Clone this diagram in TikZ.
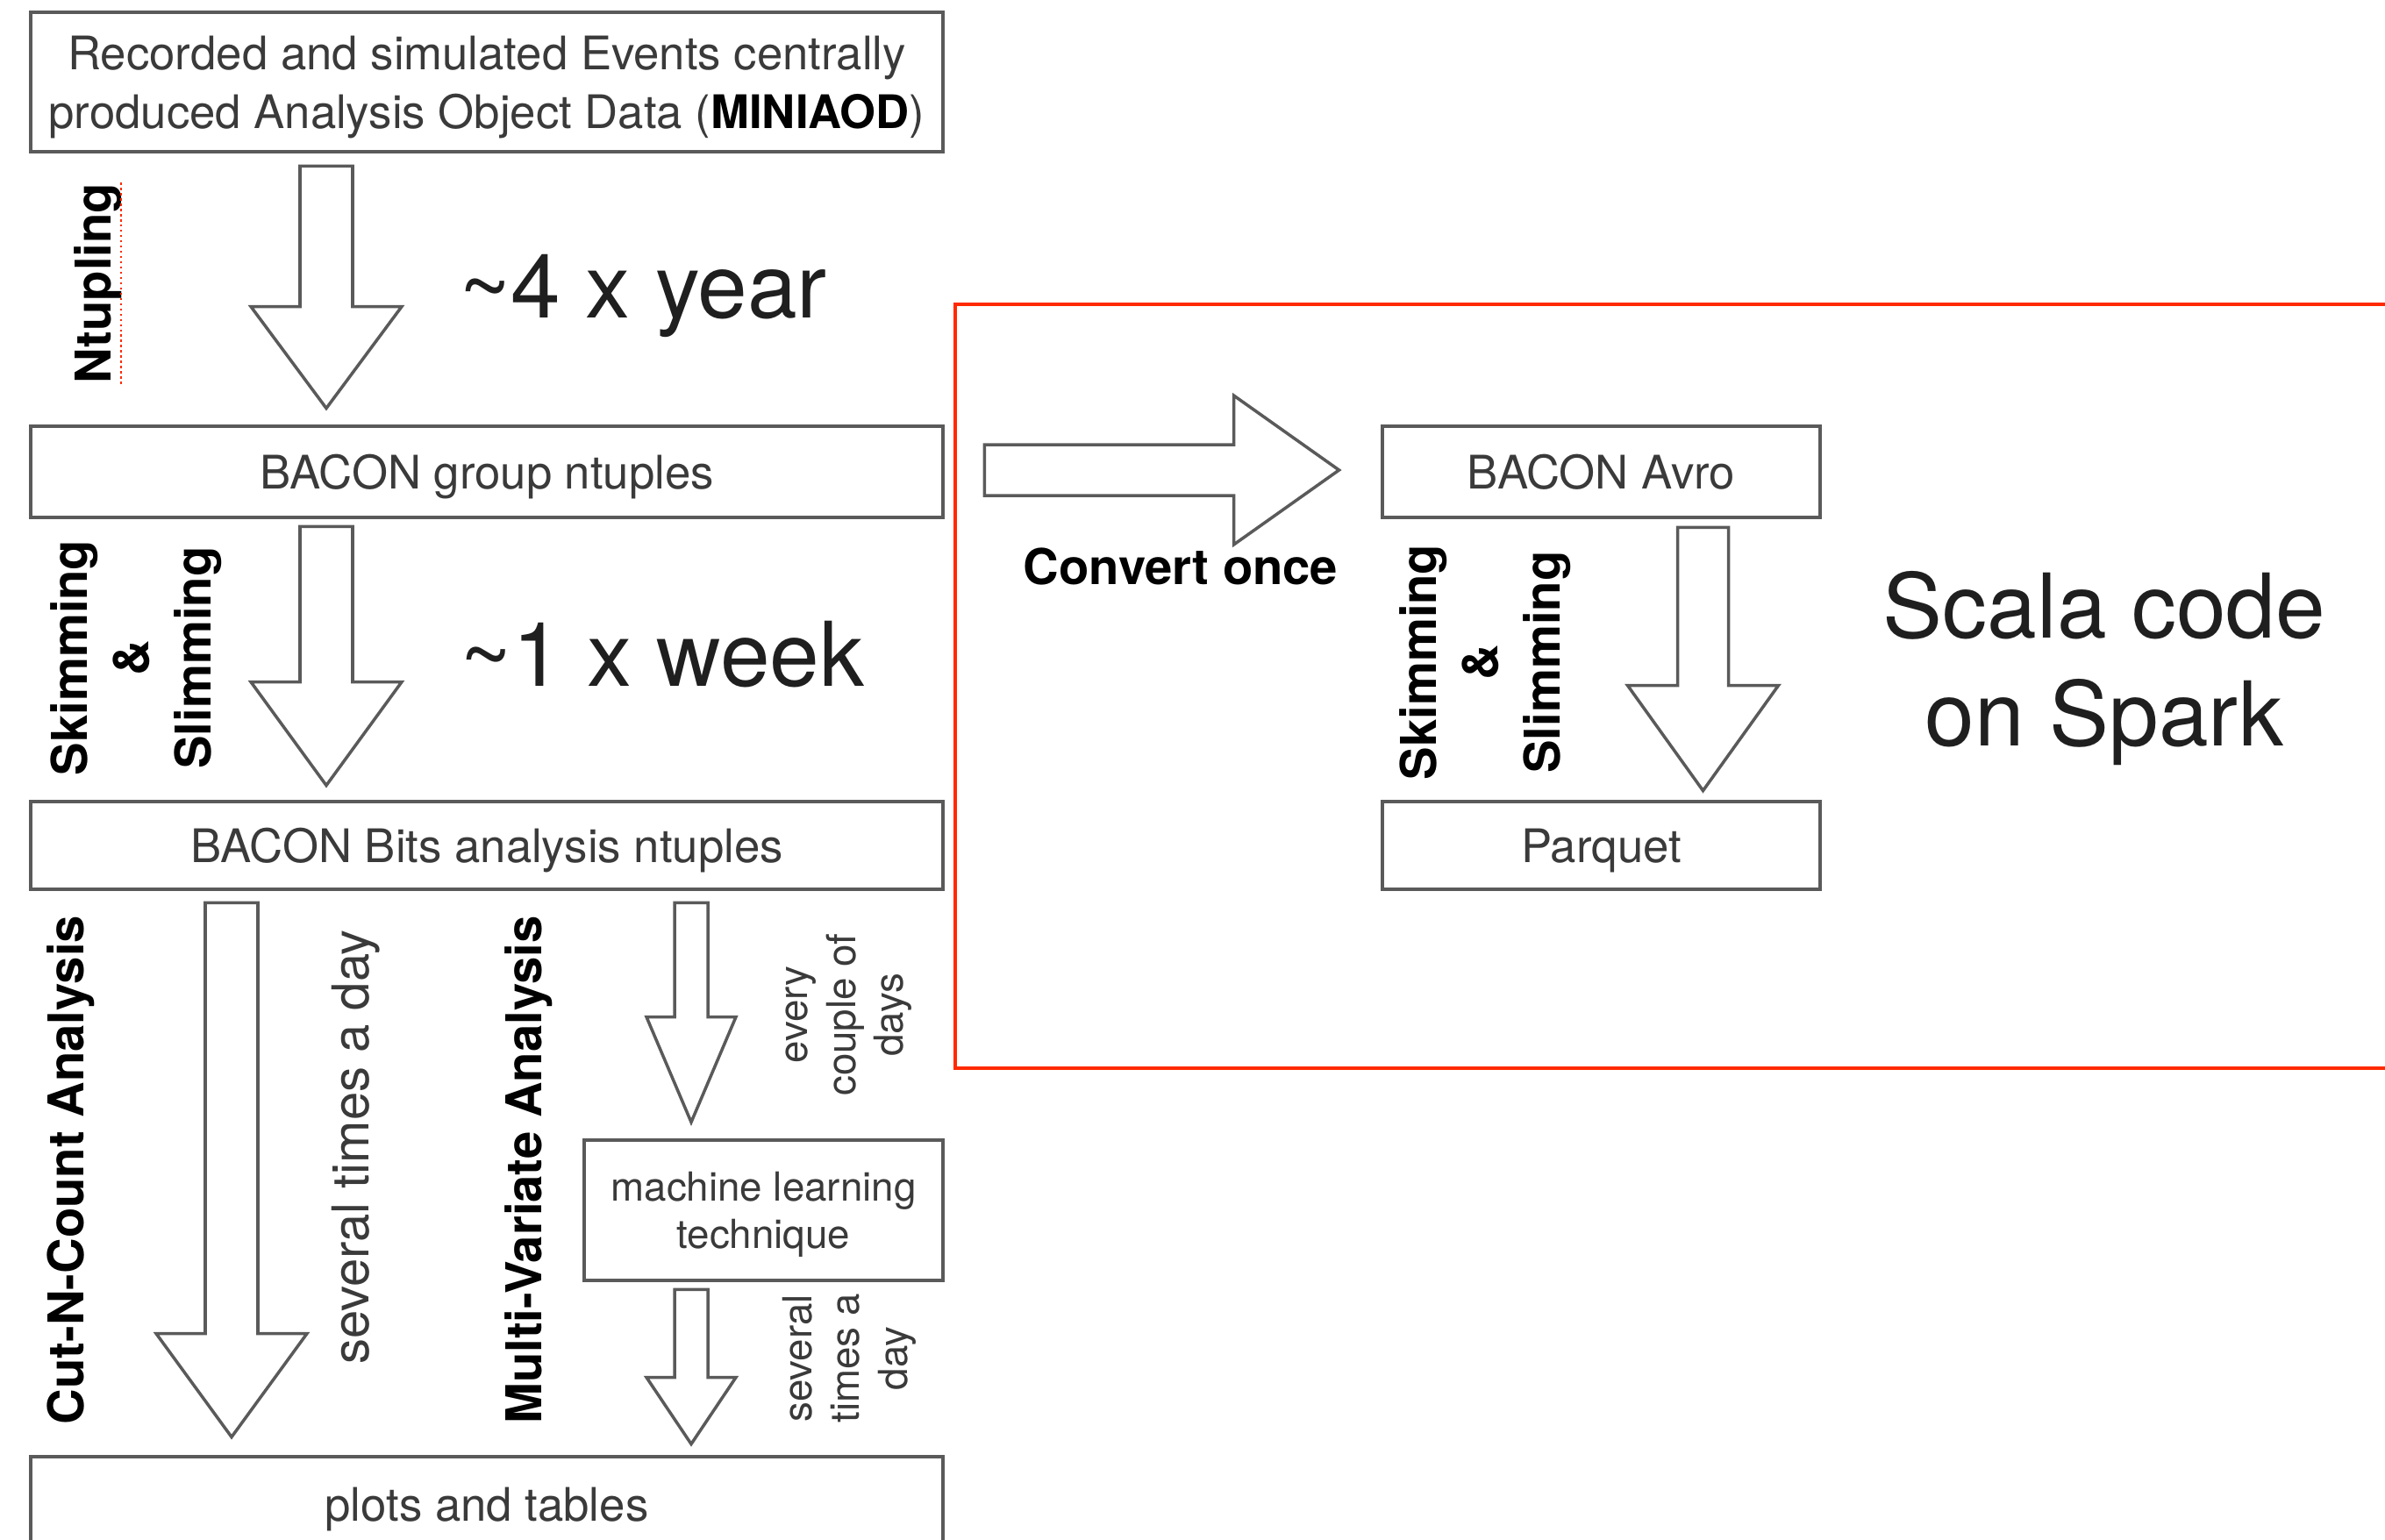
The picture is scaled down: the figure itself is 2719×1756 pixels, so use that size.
\documentclass[tikz,border=0pt]{standalone}
\usepackage{fontspec}
\setmainfont{TeX Gyre Heros}
\usetikzlibrary{calc}
\definecolor{linegray}{HTML}{5A5A5A}
\definecolor{textgray}{HTML}{3A3A3A}
\definecolor{framered}{HTML}{FF2A00}
% hollow block arrows: tail, tip, half shaft, half head, head length
\newcommand{\downblock}[5]{\draw[blockarrow] ($(#1)+(-#3,0)$) -- ($(#1)+(#3,0)$) -- ($(#2)+(#3,-#5)$) -- ($(#2)+(#4,-#5)$) -- (#2) -- ($(#2)+(-#4,-#5)$) -- ($(#2)+(-#3,-#5)$) -- cycle;}
\newcommand{\rightblock}[5]{\draw[blockarrow] ($(#1)+(0,-#3)$) -- ($(#2)+(-#5,-#3)$) -- ($(#2)+(-#5,-#4)$) -- (#2) -- ($(#2)+(-#5,#4)$) -- ($(#2)+(-#5,#3)$) -- ($(#1)+(0,#3)$) -- cycle;}
\begin{document}
\begin{tikzpicture}[x=0.1mm,y=-0.1mm,
    databox/.style={draw=linegray,line width=1.4pt,text=textgray,inner sep=0pt,text depth=0pt,align=center,font=\fontsize{15}{19}\selectfont},
    blockarrow/.style={draw=linegray,line width=1pt,fill=white,line join=miter},
    sidelabel/.style={rotate=90,inner sep=0pt,align=center,font=\fontsize{16}{20}\selectfont\bfseries},
    boldcaption/.style={inner sep=0pt,font=\fontsize{16}{20}\selectfont\bfseries},
    rate/.style={inner sep=0pt,text=black!88,font=\fontsize{29}{35}\selectfont},
    note/.style={rotate=90,inner sep=0pt,align=center,text=textgray,font=\fontsize{16.5}{19}\selectfont},
    smallnote/.style={rotate=90,inner sep=0pt,align=center,text=textgray,font=\fontsize{13}{15.5}\selectfont}]
    \useasboundingbox (0,0) rectangle (2719,1756);
    \clip (0,0) rectangle (2719,1756);
    % left column
    \node[databox,minimum width=104mm,minimum height=15.9mm] (miniaod) at (555,93.5) {Recorded and simulated Events centrally\\produced Analysis Object Data (\textbf{\color{black}MINIAOD})};
    \node[databox,minimum width=104mm,minimum height=10.4mm] (group) at (555,538) {BACON group ntuples};
    \node[databox,minimum width=104mm,minimum height=10mm] (bits) at (555,964) {BACON Bits analysis ntuples};
    \node[databox,minimum width=40.9mm,minimum height=16mm,font=\fontsize{13}{15.5}\selectfont] (ml) at (870.5,1380) {machine learning\\technique};
    \node[databox,minimum width=104mm,minimum height=10.8mm] (plots) at (555,1715) {plots and tables};
    % right column
    \node[databox,minimum width=49.9mm,minimum height=10.4mm] (avro) at (1825.5,538) {BACON Avro};
    \node[databox,minimum width=49.9mm,minimum height=10mm] (parquet) at (1825.5,964) {Parquet};
    \draw[framered,line width=1.4pt] (1089,347) rectangle (2760,1218);
    % arrows
    \coordinate (ntupA) at ($(miniaod.south)+(-183,14)$);
    \coordinate (ntupB) at ($(group.north)+(-183,-18)$);
    \downblock{ntupA}{ntupB}{30}{86}{116}
    \coordinate (skimA) at ($(group.south)+(-183,8)$);
    \coordinate (skimB) at ($(bits.north)+(-183,-16)$);
    \downblock{skimA}{skimB}{30}{86}{118}
    \coordinate (cutA) at ($(bits.south)+(-291,13)$);
    \coordinate (cutB) at ($(plots.north)+(-291,-20)$);
    \downblock{cutA}{cutB}{30}{86}{118}
    \coordinate (mvaA) at ($(bits.south)+(233,13)$);
    \coordinate (mvaB) at ($(ml.north -| mvaA)+(0,-18)$);
    \downblock{mvaA}{mvaB}{19}{51}{120}
    \coordinate (mlA) at ($(ml.south -| mvaA)+(0,8)$);
    \coordinate (mlB) at ($(plots.north -| mvaA)+(0,-12)$);
    \downblock{mlA}{mlB}{19}{51}{76}
    \coordinate (convA) at ($(group.east)+(45,-2)$);
    \coordinate (convB) at ($(avro.west)+(-47,-2)$);
    \rightblock{convA}{convB}{29}{85}{120}
    \coordinate (avroA) at ($(avro.south)+(116,9)$);
    \coordinate (avroB) at ($(parquet.north)+(116,-10)$);
    \downblock{avroA}{avroB}{29}{86}{120}
    % labels
    \node[sidelabel] (ntup) at (112,323) {Ntupling};
    \draw[framered,densely dotted,line width=0.7pt] ($(ntup.south west)+(-2,0)$) -- ($(ntup.south east)+(-2,0)$);
    \node[rate,anchor=base] (year) at (733,362) {\textasciitilde 4 x year};
    \node[sidelabel] (skimleft) at (155,750) {Skimming\\\&\\Slimming};
    \node[rate,anchor=base] (week) at (755,782) {\textasciitilde 1 x week};
    \node[sidelabel] (cut) at (81,1334) {Cut-N-Count Analysis};
    \node[note] (daily) at (406,1308) {several times a day};
    \node[sidelabel] (mva) at (603,1334) {Multi-Variate Analysis};
    \node[smallnote] (couple) at (968,1157) {every\\couple of\\days};
    \node[smallnote] (dailyml) at (968,1549) {several\\times a\\day};
    \node[boldcaption] (convert) at (1346,646) {Convert once};
    \node[sidelabel] (skimright) at (1693,755) {Skimming\\\&\\Slimming};
    \node[rate,align=center] (scala) at (2399,762) {Scala code\\on Spark};
\end{tikzpicture}
\end{document}
